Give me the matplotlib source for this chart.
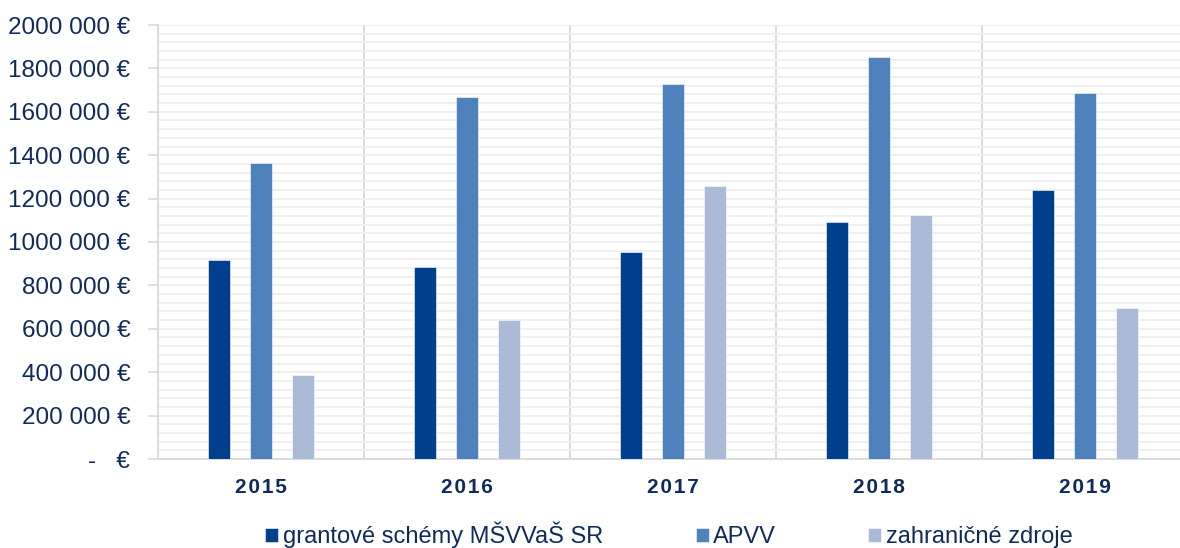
import numpy as np
import matplotlib
matplotlib.use('Agg')
import matplotlib.pyplot as plt
from matplotlib.ticker import MultipleLocator

plt.rcParams['font.family'] = ['Liberation Sans', 'DejaVu Sans']

# Data (EUR)
years = ['2015', '2016', '2017', '2018', '2019']
series = ['grantové schémy MŠVVaŠ SR', 'APVV', 'zahraničné zdroje']
msvvas = [918000, 886000, 955000, 1094000, 1238000]
apvv = [1366000, 1668000, 1727000, 1852000, 1688000]
zahranicne = [388000, 641000, 1260000, 1124000, 698000]
ytick_vals = [0, 200000, 400000, 600000, 800000, 1000000, 1200000,
              1400000, 1600000, 1800000, 2000000]
ytick_labels = ['-   €', '200 000 €', '400 000 €', '600 000 €', '800 000 €',
                '1000 000 €', '1200 000 €', '1400 000 €', '1600 000 €',
                '1800 000 €', '2000 000 €']

colors = ['#003F8D', '#4F81BD', '#ABBAD6']
text_col = '#112A5C'
grid_col = '#F0F0F0'
sep_col = '#D9D9D9'

fig = plt.figure(figsize=(11.8, 5.48), dpi=100)
ax = fig.add_axes([158/1180, 1-459/548, 1-158/1180, (459-25)/548])

x = np.arange(len(years))
w = 0.107
off = 0.204
for i, vals in enumerate([msvvas, apvv, zahranicne]):
    ax.bar(x + (i-1)*off, vals, w, color=colors[i], label=series[i],
           edgecolor='white', linewidth=0.4, zorder=3)

ax.set_ylim(0, 2000000)
ax.set_xlim(-0.5, -0.5 + (1180-158)/206)

# faint horizontal lines
ax.yaxis.set_minor_locator(MultipleLocator(40000))
ax.grid(which='minor', axis='y', color=grid_col, linewidth=1.4, zorder=0)
ax.grid(which='major', axis='y', color=grid_col, linewidth=1.4, zorder=0)

# category separators
for s in np.arange(0.5, len(years)-0.5, 1.0):
    ax.axvline(s, color=sep_col, linewidth=1.3, zorder=1)

ax.set_yticks(ytick_vals)
ax.set_yticklabels(ytick_labels, fontsize=17.5, color=text_col)
ax.tick_params(axis='y', which='major', length=7, width=1.2, color=sep_col, pad=13)
ax.tick_params(axis='y', which='minor', length=0)

ax.set_xticks(x)
ax.set_xticklabels(['\u200a'.join(y) for y in years], fontsize=15, fontweight='bold',
                   color=text_col)
ax.tick_params(axis='x', length=0, pad=14)

for sp in ['top', 'right']:
    ax.spines[sp].set_visible(False)
ax.spines['left'].set_color(sep_col)
ax.spines['left'].set_linewidth(1.3)
ax.spines['bottom'].set_color(sep_col)
ax.spines['bottom'].set_linewidth(1.3)

leg = fig.legend(loc='center', bbox_to_anchor=(0.567, 0.024), ncol=3,
                 frameon=False, fontsize=17, handlelength=0.55, handleheight=0.55,
                 handletextpad=0.2, columnspacing=3.9)
for t in leg.get_texts():
    t.set_color(text_col)

fig.savefig('out.png', dpi=100)
